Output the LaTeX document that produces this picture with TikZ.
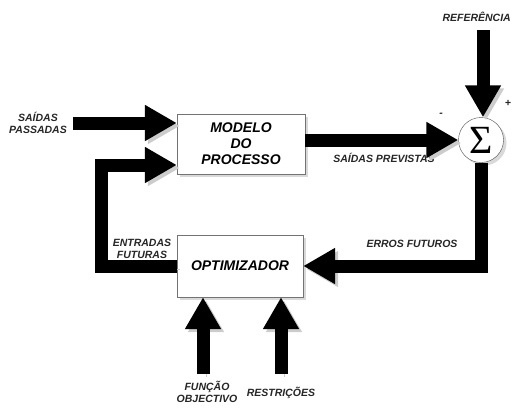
\documentclass[tikz,border=0pt]{standalone}
\usepackage{fontspec}
\setmainfont{Liberation Sans}
\newfontfamily\sigmafont{Liberation Serif}
\usetikzlibrary{arrows.meta,calc,shadows}

\begin{document}
\begin{tikzpicture}[
  x = 1pt, y = -1pt,
  block/.style = {rectangle, draw=black!55, fill=white, align=center, text centered, inner sep=0pt, font=\fontsize{14}{16}\selectfont\bfseries\itshape, drop shadow={opacity=0.3, shadow xshift=3pt, shadow yshift=-3pt}},
  sum/.style   = {circle, draw=black!70, fill=white, minimum size=45pt, inner sep=0pt, font=\fontsize{40}{40}\selectfont\sigmafont, drop shadow={opacity=0.3, shadow xshift=3pt, shadow yshift=-3pt}},
  tag/.style   = {align=center, text=black!85, inner sep=1pt, font=\fontsize{10.5}{11.5}\selectfont\bfseries\itshape},
  flow/.style  = {line width=13pt, line join=miter, -{Triangle[width=34pt,length=32pt]}, preaction={draw=black!20, transform canvas={shift={(3pt,-3pt)}}}},
  ]
  \useasboundingbox (0,0) rectangle (513,407);
  % blocks
  \node[block, minimum width=128pt, minimum height=60pt] (modelo) at (241,144) {MODELO\\DO\\PROCESSO};
  \node[block, minimum width=126pt, minimum height=62pt] (optim)  at (240,266) {OPTIMIZADOR};
  \node[sum] (sigma) at (481,140) {Σ};
  % labels
  \node[tag] (passadas) at (38,123) {SAÍDAS\\PASSADAS};
  \node[tag, anchor=east] (ref) at (512,17) {REFERÊNCIA};
  \node[tag] (previstas) at (384,158) {SAÍDAS PREVISTAS};
  \node[tag] (erros) at (412,244) {ERROS FUTUROS};
  \node[tag] (entradas) at (142,249) {ENTRADAS\\FUTURAS};
  \node[tag] (funcao) at (207,392) {FUNÇÃO\\OBJECTIVO};
  \node[tag] (restr) at (281,393) {RESTRIÇÕES};
  \node[tag] (menos) at (441,115) {-};
  \node[tag] (mais) at (508,103) {+};
  \coordinate (reftop) at (483,30);
  % flows
  \draw[flow] ([xshift=5pt]passadas.east) -- (passadas.east -| modelo.west);
  \draw[flow] (modelo.east |- sigma.west) -- (sigma.west);
  \draw[flow] (reftop) -- (reftop |- sigma.north);
  \draw[flow] (sigma.south) |- (optim.east);
  \draw[flow] (optim.west) -- ++(-75,0) |- ($(modelo.west)+(0,21)$);
  \draw[flow] ([shift={(-4,-6)}]funcao.north) -- ([xshift=-4pt]funcao.north |- optim.south);
  \draw[flow] ([shift={(0,-12)}]restr.north) -- (restr.north |- optim.south);
\end{tikzpicture}
\end{document}
